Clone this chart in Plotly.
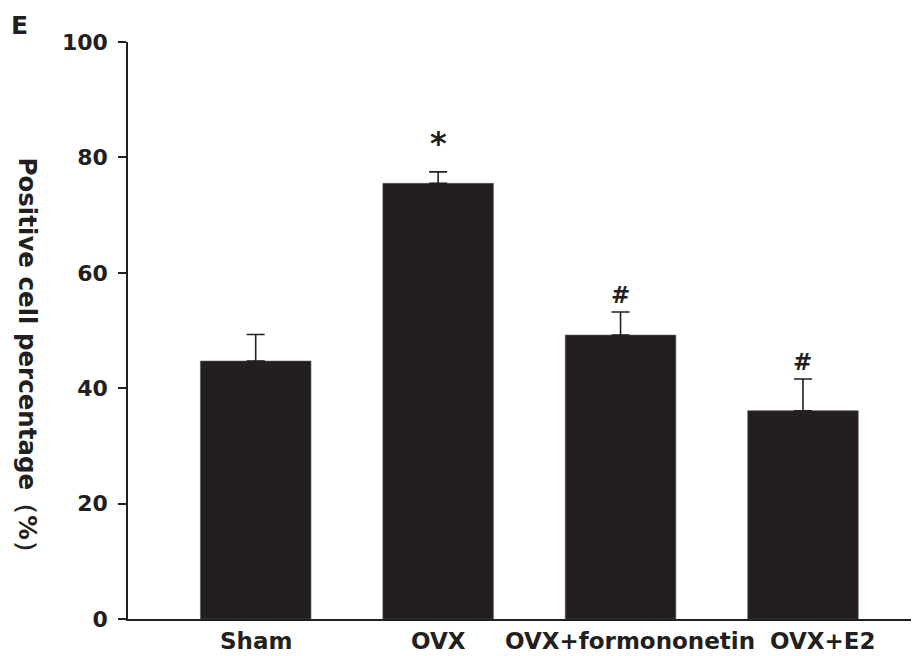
import plotly.graph_objects as go

categories = ["Sham", "OVX", "OVX+formononetin", "OVX+E2"]
means = [44.7, 75.5, 49.2, 36.1]
errors = [4.6, 2.0, 4.0, 5.5]
marks = ["", "*", "#", "#"]
y_ticks = [0, 20, 40, 60, 80, 100]

FONT = "DejaVu Sans"
DARK = "#231f20"

# the page body adds an 8px offset; the figure is sized to fit the window
W, H = 911, 648
ML, MT, MB = 120, 34, 37
PW = W - ML
PH = H - MT - MB

fig = go.Figure()
fig.add_trace(go.Bar(
    x=categories, y=means, width=0.606,
    marker=dict(color=DARK, line=dict(color="#555555", width=0.6)),
    error_y=dict(type="data", array=errors, arrayminus=[0] * len(errors),
                 symmetric=False, color=DARK, thickness=1.6, width=9),
    showlegend=False,
))

annotations = []
label_shift = [0, 0, 9, 20]
for cat, sh in zip(categories, label_shift):
    annotations.append(dict(
        x=cat, xref="x", y=0, yref="paper", yanchor="top", xanchor="center",
        text=cat, showarrow=False, xshift=sh, yshift=-7,
        font=dict(family=FONT, size=23, color=DARK, weight="bold"),
    ))
for cat, m, e, mk in zip(categories, means, errors, marks):
    if not mk:
        continue
    size = 32 if mk == "*" else 23
    annotations.append(dict(
        x=cat, xref="x", y=m + e, yref="y", yanchor="bottom", xanchor="center",
        text=mk, showarrow=False, yshift=(8 if mk == "*" else 2),
        font=dict(family=FONT, size=size, color=DARK, weight="bold"),
    ))
annotations.append(dict(
    x=(27 - 8 - ML) / PW, xref="paper", y=(611 - 352.5) / PH, yref="paper",
    xanchor="center", yanchor="middle", textangle=90,
    text="Positive cell percentage（%）", showarrow=False,
    font=dict(family=FONT, size=24.5, color=DARK, weight="bold"),
))
annotations.append(dict(
    x=(9 - 8 - ML) / PW, xref="paper", y=(611 - 17.5) / PH, yref="paper",
    xanchor="left", yanchor="middle", text="E", showarrow=False,
    font=dict(family=FONT, size=25, color=DARK, weight="bold"),
))

fig.update_layout(
    width=W, height=H,
    margin=dict(l=ML, r=0, t=MT, b=MB, autoexpand=False),
    plot_bgcolor="white", paper_bgcolor="white",
    annotations=annotations,
    xaxis=dict(range=[-0.70, 3.636], showticklabels=False, ticks="",
               showline=True, linecolor=DARK, linewidth=1.5, showgrid=False,
               zeroline=False),
    yaxis=dict(range=[0, 100], tickvals=y_ticks, ticks="outside", ticklen=8,
               tickwidth=1.5, tickcolor=DARK, showline=True, linecolor=DARK,
               linewidth=1.5, showgrid=False, zeroline=False,
               ticklabelstandoff=6,
               tickfont=dict(family=FONT, size=22, color=DARK, weight="bold")),
)

fig.write_html("out.html")
